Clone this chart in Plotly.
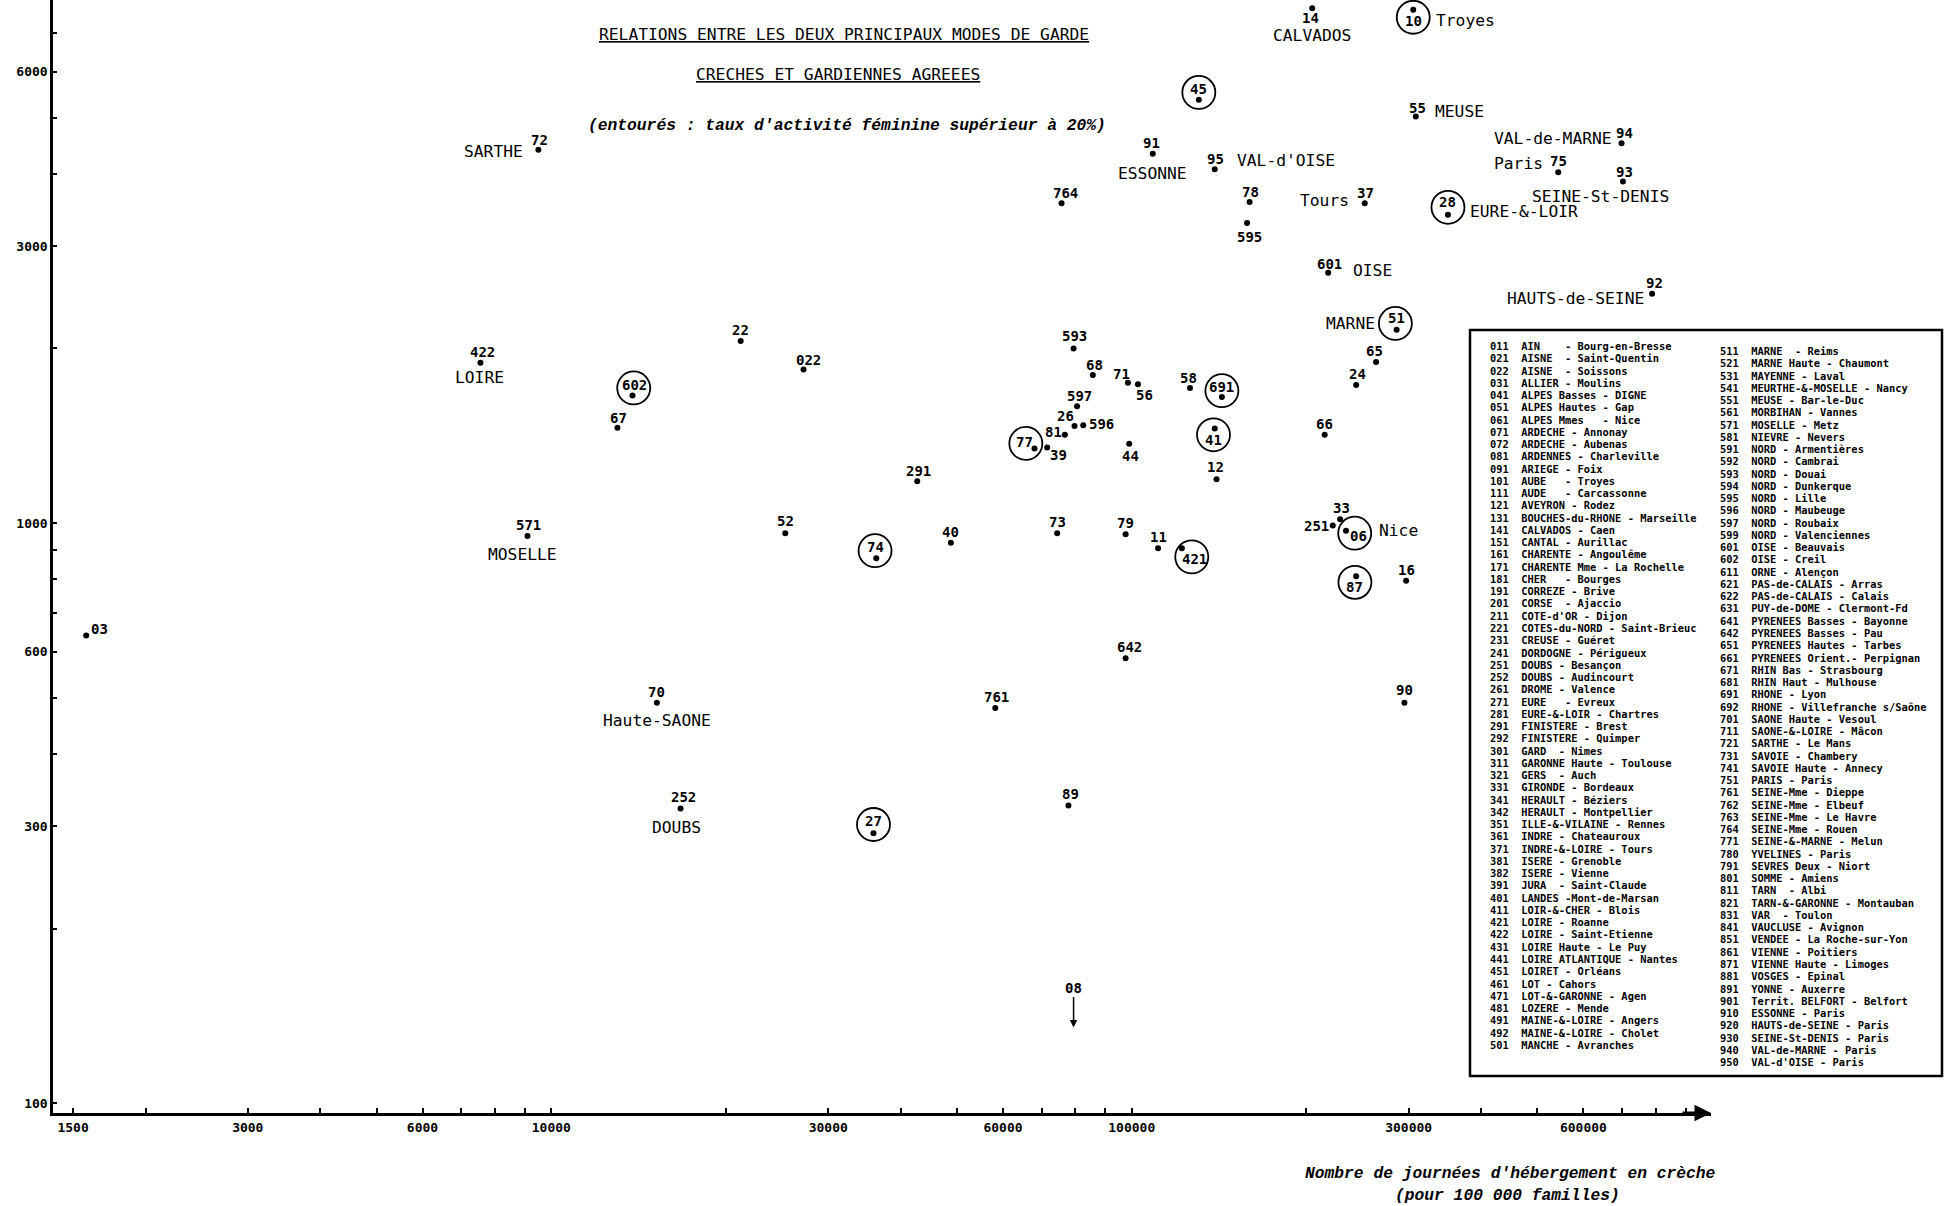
import numpy as np
import plotly.graph_objects as go

# ---------------- DATA ----------------
codes = ["03", "72", "422", "571", "602", "67", "70", "252", "22", "022", "52", "74", "27",
         "291", "40", "761", "77", "39", "81", "26", "596", "597", "593", "68", "71", "56",
         "58", "691", "44", "41", "12", "66", "73", "79", "11", "421", "642", "89", "33",
         "251", "06", "16", "87", "90", "65", "24", "51", "601", "92", "595", "764", "78",
         "37", "28", "93", "75", "95", "91", "94", "55", "45", "14", "10"]
# journees d'hebergement en creche (pour 100 000 familles)
creche_days = [1580, 9500, 7550, 9100, 13800, 13000, 15200, 16700, 21200, 27200, 25300, 36300, 35900,
               42700, 48800, 58200, 68000, 71500, 76700, 79700, 82500, 80500, 79400, 85700, 98500, 102500,
               126000, 143000, 99000, 139000, 140000, 215000, 74400, 97600, 111000, 122000, 97600, 77800, 228600,
               222000, 234000, 297000, 243600, 295000, 263600, 243600, 286000, 218000, 788000, 158000, 75700, 159600,
               252000, 350600, 702000, 543000, 139000, 108700, 698000, 308600, 130500, 204600, 305500]
# gardiennes agreees
gardiennes = [640, 4400, 1890, 950, 1660, 1460, 490, 322, 2060, 1840, 960, 870, 292,
              1180, 925, 480, 1345, 1350, 1420, 1470, 1475, 1590, 2000, 1800, 1745, 1735,
              1710, 1650, 1370, 1455, 1190, 1420, 960, 957, 905, 905, 585, 326, 1015,
              990, 970, 795, 810, 490, 1895, 1730, 2155, 2700, 2485, 3290, 3560, 3575,
              3560, 3400, 3880, 4025, 4075, 4330, 4515, 5020, 5365, 7720, 7670]
# taux d'activite feminine superieur a 20 %
circled_codes = ["10", "45", "28", "51", "602", "691", "41", "77", "74", "421", "06", "87", "27"]

place_names = {"14": "CALVADOS", "10": "Troyes", "55": "MEUSE", "94": "VAL-de-MARNE", "72": "SARTHE",
               "91": "ESSONNE", "95": "VAL-d'OISE", "75": "Paris", "93": "SEINE-St-DENIS", "37": "Tours",
               "28": "EURE-&-LOIR", "601": "OISE", "92": "HAUTS-de-SEINE", "51": "MARNE", "422": "LOIRE",
               "571": "MOSELLE", "70": "Haute-SAONE", "252": "DOUBS", "06": "Nice"}

# Ardennes (08): below the scale, shown by an arrow
off_scale_code = "08"
off_scale_creche = 79400
off_scale_shown_at = 135

x_tickvals = [1500, 2000, 3000, 4000, 5000, 6000, 7000, 8000, 9000, 10000, 20000, 30000, 40000, 50000,
              60000, 70000, 80000, 90000, 100000, 200000, 300000, 400000, 500000, 600000, 700000, 800000, 900000]
x_labelled = ["1500", "3000", "6000", "10000", "30000", "60000", "100000", "300000", "600000"]
y_tickvals = [100, 200, 300, 400, 500, 600, 700, 800, 900, 1000, 2000, 3000, 4000, 5000, 6000, 7000]
y_labelled = ["100", "300", "600", "1000", "3000", "6000"]

title_1 = "RELATIONS ENTRE LES DEUX PRINCIPAUX MODES DE GARDE"
title_2 = "CRECHES ET GARDIENNES AGREEES"
subtitle = "(entourés : taux d'activité féminine supérieur à 20%)"
x_title_1 = "Nombre de journées d'hébergement en crèche"
x_title_2 = "(pour 100 000 familles)"

legend_left = [
    ("011", "AIN    - Bourg-en-Bresse"), ("021", "AISNE  - Saint-Quentin"), ("022", "AISNE  - Soissons"),
    ("031", "ALLIER - Moulins"), ("041", "ALPES Basses - DIGNE"), ("051", "ALPES Hautes - Gap"),
    ("061", "ALPES Mmes   - Nice"), ("071", "ARDECHE - Annonay"), ("072", "ARDECHE - Aubenas"),
    ("081", "ARDENNES - Charleville"), ("091", "ARIEGE - Foix"), ("101", "AUBE   - Troyes"),
    ("111", "AUDE   - Carcassonne"), ("121", "AVEYRON - Rodez"), ("131", "BOUCHES-du-RHONE - Marseille"),
    ("141", "CALVADOS - Caen"), ("151", "CANTAL - Aurillac"), ("161", "CHARENTE - Angoulême"),
    ("171", "CHARENTE Mme - La Rochelle"), ("181", "CHER   - Bourges"), ("191", "CORREZE - Brive"),
    ("201", "CORSE  - Ajaccio"), ("211", "COTE-d'OR - Dijon"), ("221", "COTES-du-NORD - Saint-Brieuc"),
    ("231", "CREUSE - Guéret"), ("241", "DORDOGNE - Périgueux"), ("251", "DOUBS - Besançon"),
    ("252", "DOUBS - Audincourt"), ("261", "DROME - Valence"), ("271", "EURE   - Evreux"),
    ("281", "EURE-&-LOIR - Chartres"), ("291", "FINISTERE - Brest"), ("292", "FINISTERE - Quimper"),
    ("301", "GARD  - Nimes"), ("311", "GARONNE Haute - Toulouse"), ("321", "GERS  - Auch"),
    ("331", "GIRONDE - Bordeaux"), ("341", "HERAULT - Béziers"), ("342", "HERAULT - Montpellier"),
    ("351", "ILLE-&-VILAINE - Rennes"), ("361", "INDRE - Chateauroux"), ("371", "INDRE-&-LOIRE - Tours"),
    ("381", "ISERE - Grenoble"), ("382", "ISERE - Vienne"), ("391", "JURA  - Saint-Claude"),
    ("401", "LANDES -Mont-de-Marsan"), ("411", "LOIR-&-CHER - Blois"), ("421", "LOIRE - Roanne"),
    ("422", "LOIRE - Saint-Etienne"), ("431", "LOIRE Haute - Le Puy"), ("441", "LOIRE ATLANTIQUE - Nantes"),
    ("451", "LOIRET - Orléans"), ("461", "LOT - Cahors"), ("471", "LOT-&-GARONNE - Agen"),
    ("481", "LOZERE - Mende"), ("491", "MAINE-&-LOIRE - Angers"), ("492", "MAINE-&-LOIRE - Cholet"),
    ("501", "MANCHE - Avranches"),
]
legend_right = [
    ("511", "MARNE  - Reims"), ("521", "MARNE Haute - Chaumont"), ("531", "MAYENNE - Laval"),
    ("541", "MEURTHE-&-MOSELLE - Nancy"), ("551", "MEUSE - Bar-le-Duc"), ("561", "MORBIHAN - Vannes"),
    ("571", "MOSELLE - Metz"), ("581", "NIEVRE - Nevers"), ("591", "NORD - Armentières"),
    ("592", "NORD - Cambrai"), ("593", "NORD - Douai"), ("594", "NORD - Dunkerque"),
    ("595", "NORD - Lille"), ("596", "NORD - Maubeuge"), ("597", "NORD - Roubaix"),
    ("599", "NORD - Valenciennes"), ("601", "OISE - Beauvais"), ("602", "OISE - Creil"),
    ("611", "ORNE - Alençon"), ("621", "PAS-de-CALAIS - Arras"), ("622", "PAS-de-CALAIS - Calais"),
    ("631", "PUY-de-DOME - Clermont-Fd"), ("641", "PYRENEES Basses - Bayonne"), ("642", "PYRENEES Basses - Pau"),
    ("651", "PYRENEES Hautes - Tarbes"), ("661", "PYRENEES Orient.- Perpignan"), ("671", "RHIN Bas - Strasbourg"),
    ("681", "RHIN Haut - Mulhouse"), ("691", "RHONE - Lyon"), ("692", "RHONE - Villefranche s/Saône"),
    ("701", "SAONE Haute - Vesoul"), ("711", "SAONE-&-LOIRE - Mâcon"), ("721", "SARTHE - Le Mans"),
    ("731", "SAVOIE - Chambery"), ("741", "SAVOIE Haute - Annecy"), ("751", "PARIS - Paris"),
    ("761", "SEINE-Mme - Dieppe"), ("762", "SEINE-Mme - Elbeuf"), ("763", "SEINE-Mme - Le Havre"),
    ("764", "SEINE-Mme - Rouen"), ("771", "SEINE-&-MARNE - Melun"), ("780", "YVELINES - Paris"),
    ("791", "SEVRES Deux - Niort"), ("801", "SOMME - Amiens"), ("811", "TARN  - Albi"),
    ("821", "TARN-&-GARONNE - Montauban"), ("831", "VAR  - Toulon"), ("841", "VAUCLUSE - Avignon"),
    ("851", "VENDEE - La Roche-sur-Yon"), ("861", "VIENNE - Poitiers"), ("871", "VIENNE Haute - Limoges"),
    ("881", "VOSGES - Epinal"), ("891", "YONNE - Auxerre"), ("901", "Territ. BELFORT - Belfort"),
    ("910", "ESSONNE - Paris"), ("920", "HAUTS-de-SEINE - Paris"), ("930", "SEINE-St-DENIS - Paris"),
    ("940", "VAL-de-MARNE - Paris"), ("950", "VAL-d'OISE - Paris"),
]

# ---------------- STYLE / LAYOUT ----------------
W, H = 1944, 1206
L, R, T, B = 53, 233, 0, 93
PW, PH = W - L - R, H - T - B
X_RANGE = [3.1415, 5.998]
Y_RANGE = [1.983, 3.9017]
PXD_X = PW / (X_RANGE[1] - X_RANGE[0])
PXD_Y = PH / (Y_RANGE[1] - Y_RANGE[0])
S = 1.24  # offsets below are measured on a 1568-wide copy

MONO = "DejaVu Sans Mono, Liberation Mono, monospace"
NUM_FONT = dict(family=MONO, size=14, color="black", weight="bold")
NAME_FONT = dict(family=MONO, size=16.3, color="black")
TICK_FONT = dict(family=MONO, size=13, color="black", weight="bold")
ITAL_FONT = dict(family="Liberation Mono, DejaVu Sans Mono, monospace", size=16.3, color="black",
                 style="italic", weight="bold")
LEG_FONT = dict(family=MONO, size=10.4, color="black", weight="bold")

num_offset = {
    "03": (11, -5), "14": (-1, 8), "55": (1, -7), "94": (2, -8), "72": (1, -8), "91": (-1, -9),
    "95": (1, -8), "75": (0, -9), "93": (1, -8), "764": (3, -8), "78": (1, -8), "37": (1, -8),
    "595": (2, 11), "601": (1, -7), "92": (2, -9), "65": (-1, -9), "24": (1, -9), "422": (2, -9),
    "022": (4, -8), "67": (1, -8), "593": (1, -10), "68": (1, -8), "71": (-5, -7), "56": (5, 9),
    "58": (-1, -8), "597": (2, -8), "26": (-7, -8), "596": (15, -1), "81": (-9, -2), "39": (9, 6),
    "44": (1, 10), "12": (-1, -10), "291": (1, -8), "52": (0, -10), "33": (1, -9), "251": (-13, 0),
    "90": (0, -10), "642": (3, -9), "761": (1, -9), "89": (2, -9), "252": (2, -9), "571": (1, -9),
    "10": (0, 9), "45": (0, -9), "28": (0, -10), "51": (0, -9), "602": (2, -8), "691": (0, -8),
    "41": (-1, 9), "77": (-8, -5), "74": (-1, -9), "421": (10, 9), "06": (10, 4), "87": (-1, 9),
    "27": (0, -10),
}
circle_offset = {"10": (0, 6), "45": (0, -6), "28": (0, -6), "51": (-1, -5), "602": (1, -6),
                 "691": (0, -5), "41": (-1, 5), "77": (-7, -4), "74": (-1, -6), "421": (8, 7),
                 "06": (7, 2), "87": (-1, 5), "27": (0, -7)}
CIRCLE_R = 16.5
name_style = {"14": (0, 22, "center"), "10": (17, 9, "left"), "55": (14, -4, "left"),
              "94": (-6, -4, "right"), "72": (-11, 1, "right"), "91": (0, 16, "center"),
              "95": (16, -7, "left"), "75": (-11, -7, "right"), "93": (-18, 12, "center"),
              "37": (-11, -2, "right"), "28": (16, -3, "left"), "601": (18, -2, "left"),
              "92": (-5, 4, "right"), "51": (-16, -5, "right"), "422": (-1, 12, "center"),
              "571": (-4, 15, "center"), "70": (0, 14, "center"), "252": (-3, 15, "center"),
              "06": (25, 0, "left")}


def paper(px, py):
    return (px - L) / PW, (T + PH - py) / PH


annotations = []
shapes = []

for code, cx, cy in zip(codes, creche_days, gardiennes):
    lx, ly = np.log10(cx), np.log10(cy)
    dx, dy = num_offset.get(code, (0, -9))
    annotations.append(dict(x=lx, y=ly, xref="x", yref="y", text=code, showarrow=False,
                            xshift=dx * S, yshift=-dy * S, font=NUM_FONT,
                            xanchor="center", yanchor="middle"))
    if code in circled_codes:
        ox, oy = circle_offset[code]
        # anchor at the lower-left corner of the circle's box (pixel extents must stay positive)
        ax_anchor = cx * 10 ** ((ox * S - CIRCLE_R) / PXD_X)
        ay_anchor = cy * 10 ** ((-oy * S - CIRCLE_R) / PXD_Y)
        shapes.append(dict(type="circle", xref="x", yref="y", xsizemode="pixel", ysizemode="pixel",
                           xanchor=ax_anchor, yanchor=ay_anchor,
                           x0=0, x1=2 * CIRCLE_R, y0=0, y1=2 * CIRCLE_R,
                           line=dict(color="black", width=1.8)))
    if code in place_names:
        nx, ny, anc = name_style[code]
        annotations.append(dict(x=lx, y=ly, xref="x", yref="y", text=place_names[code], showarrow=False,
                                xshift=nx * S, yshift=-ny * S, font=NAME_FONT,
                                xanchor=anc, yanchor="middle"))

# off-scale department
annotations.append(dict(x=np.log10(off_scale_creche), y=np.log10(off_scale_shown_at), xref="x", yref="y",
                        text=off_scale_code, showarrow=True, ax=0, ay=-40, arrowhead=2, arrowsize=1,
                        arrowwidth=1.5, arrowcolor="black", font=NUM_FONT))

# x axis arrow
annotations.append(dict(x=1.0, y=0.0, xref="paper", yref="paper", text="", showarrow=True,
                        ax=-30, ay=0, arrowhead=2, arrowsize=1.1, arrowwidth=3, arrowcolor="black"))

# titles
for txt, (px, py), fnt in [
    ('<span style="text-decoration:underline">' + title_1 + '</span>', (844, 35), NAME_FONT),
    ('<span style="text-decoration:underline">' + title_2 + '</span>', (838, 74), NAME_FONT),
    (subtitle, (847, 126), ITAL_FONT),
    (x_title_1, (1510, 1173), ITAL_FONT),
    (x_title_2, (1507, 1195), ITAL_FONT),
]:
    xp, yp = paper(px, py)
    annotations.append(dict(x=xp, y=yp, xref="paper", yref="paper", text=txt, showarrow=False,
                            font=fnt, xanchor="center", yanchor="middle"))

# legend box
bx0, by0 = paper(1470, 330)
bx1, by1 = paper(1942, 1076)
shapes.append(dict(type="rect", xref="paper", yref="paper", x0=bx0, x1=bx1, y0=by1, y1=by0,
                   line=dict(color="black", width=2.5), fillcolor="white", layer="below"))
LINE_STEP = 12.26
for col, (x_px, y_first) in [(legend_left, (1488, 346)), (legend_right, (1718, 351))]:
    for i, (c, lab) in enumerate(col):
        xp, yp = paper(x_px, y_first + i * LINE_STEP)
        txt = (c + "  " + lab).replace(" ", "\u00a0")
        annotations.append(dict(x=xp, y=yp, xref="paper", yref="paper", text=txt, showarrow=False,
                                font=LEG_FONT, xanchor="left", yanchor="middle"))

fig = go.Figure()
fig.add_trace(go.Scatter(x=creche_days, y=gardiennes, mode="markers",
                         marker=dict(size=6, color="black"), hoverinfo="skip", showlegend=False))

fig.update_layout(
    width=W, height=H, margin=dict(l=L, r=R, t=T, b=B, pad=0),
    paper_bgcolor="white", plot_bgcolor="white", showlegend=False,
    xaxis=dict(type="log", range=X_RANGE, showgrid=False, zeroline=False, showline=True,
               linecolor="black", linewidth=3, ticks="inside", ticklen=5, tickwidth=1.5, tickcolor="black",
               tickvals=x_tickvals,
               ticktext=[str(v) if str(v) in x_labelled else "" for v in x_tickvals],
               tickfont=TICK_FONT),
    yaxis=dict(type="log", range=Y_RANGE, showgrid=False, zeroline=False, showline=True,
               linecolor="black", linewidth=2.5, ticks="inside", ticklen=4, tickwidth=1.5, tickcolor="black",
               tickvals=y_tickvals,
               ticktext=[str(v) if str(v) in y_labelled else "" for v in y_tickvals],
               tickfont=TICK_FONT),
    annotations=annotations, shapes=shapes,
)

fig.write_html("out.html", config={"displayModeBar": False},
               post_script="document.body.style.margin='0';document.body.style.overflow='hidden';")
